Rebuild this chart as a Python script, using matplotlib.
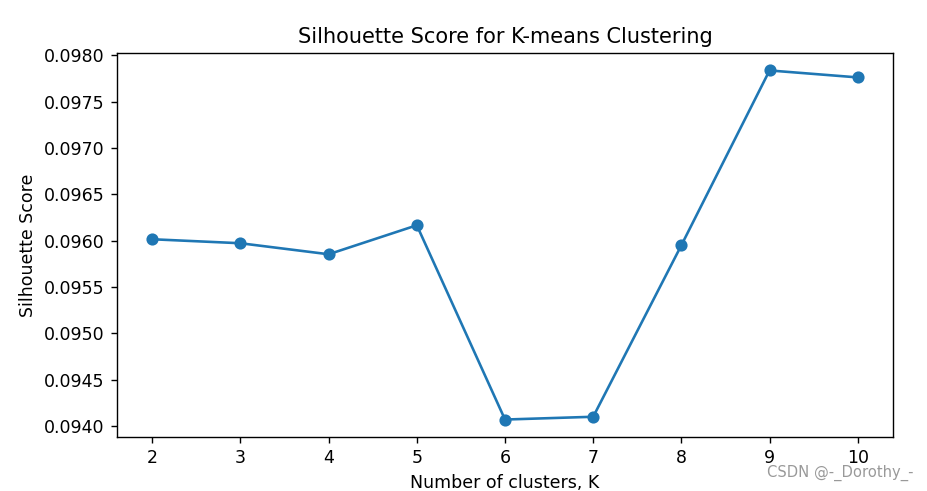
import matplotlib
matplotlib.use("Agg")
import matplotlib.pyplot as plt

k_values = [2, 3, 4, 5, 6, 7, 8, 9, 10]
scores = [0.096016, 0.095973, 0.095854, 0.096167, 0.094070, 0.094100, 0.095951, 0.097838, 0.097763]

DPI = 125
fig = plt.figure(figsize=(927/DPI, 491/DPI), dpi=DPI)
ax = fig.add_axes([117/927, 1-437/491, (893-117)/927, (437-53)/491])
ax.plot(k_values, scores, marker='o')
ax.set_title("Silhouette Score for K-means Clustering")
ax.set_xlabel("Number of clusters, K")
ax.set_ylabel("Silhouette Score")
ax.set_xticks(k_values)
fig.text(767/927, 1-473/491, "CSDN @-_Dorothy_-", ha='left', va='center', color='#999999', fontsize=8.5)
fig.savefig("out.png", dpi=DPI)
